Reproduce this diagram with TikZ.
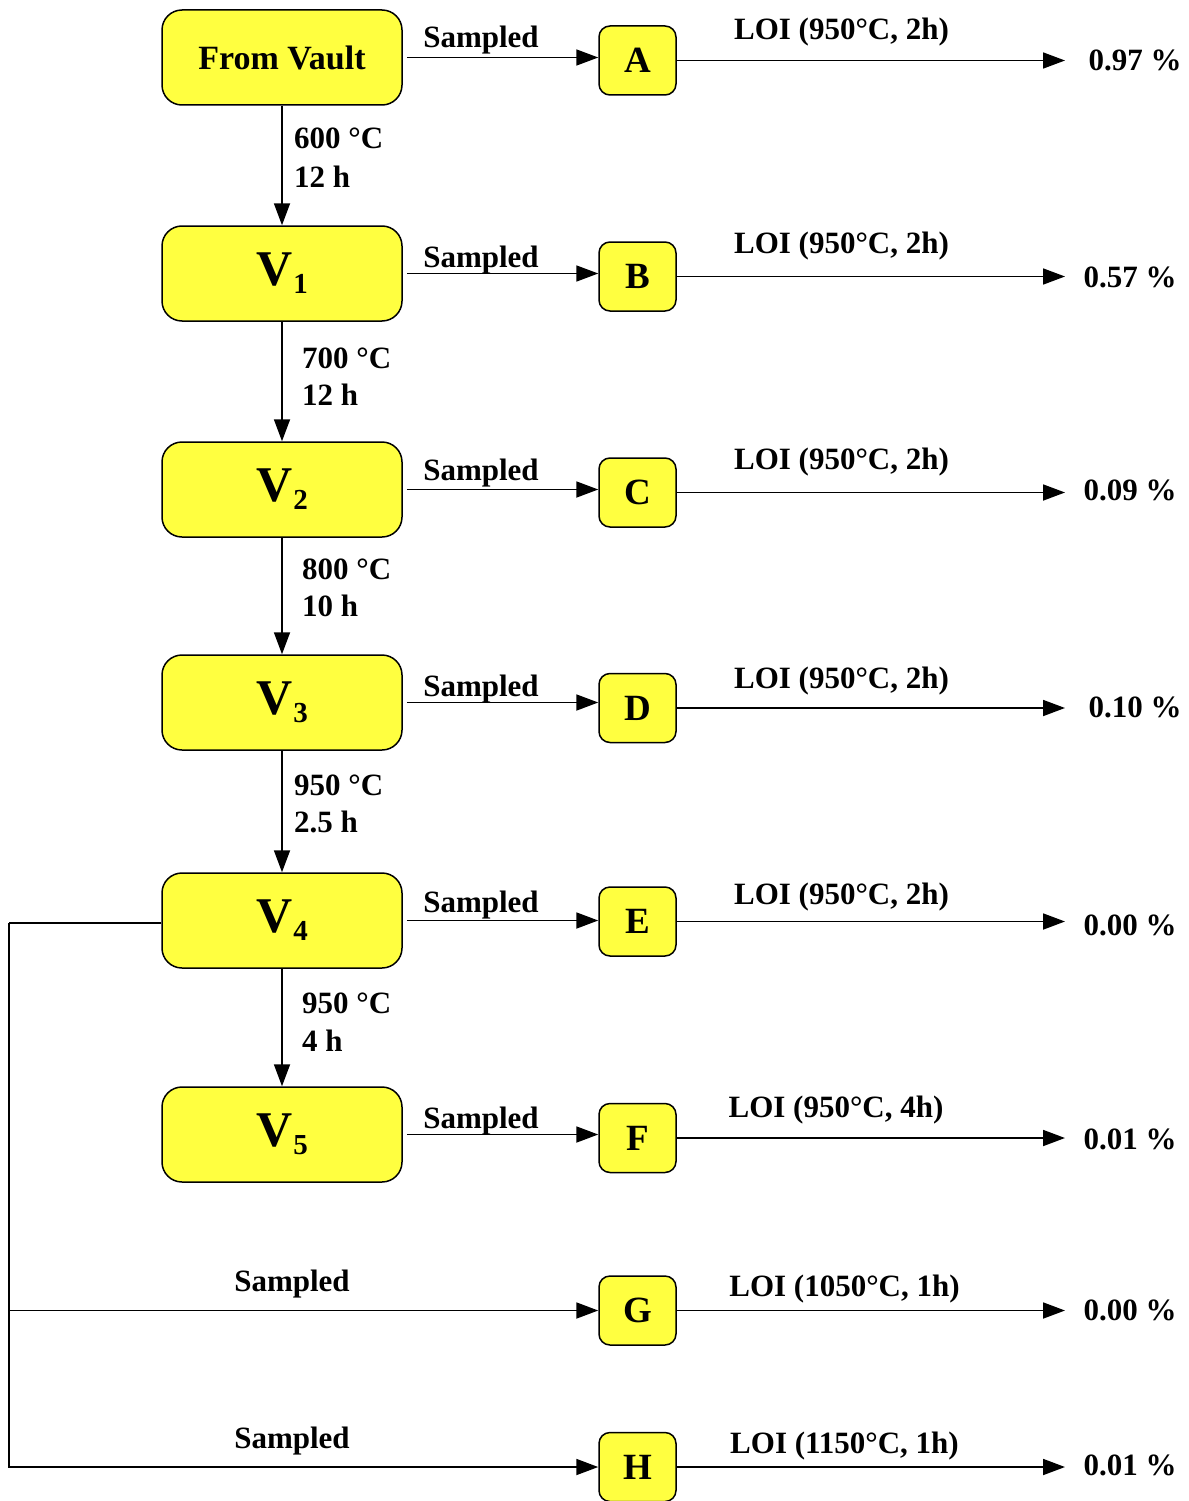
\documentclass[tikz,border=0pt]{standalone}
\usepackage{fontspec}
\setmainfont{Liberation Serif}
\usetikzlibrary{arrows.meta}
\definecolor{yel}{RGB}{255,255,64}
\newcommand{\Vsub}[1]{{\fontsize{50}{50}\selectfont V}\kern1pt\raisebox{-8pt}{\fontsize{29}{29}\selectfont #1}}
\begin{document}
\begin{tikzpicture}[x=1pt,y=-1pt,
 big/.style={draw,line width=1.5pt,fill=yel,rounded corners=20pt,minimum width=240pt,minimum height=95pt,inner sep=0pt,font=\bfseries\fontsize{34}{34}\selectfont},
 small/.style={draw,line width=1.5pt,fill=yel,rounded corners=11pt,minimum width=77pt,minimum height=69pt,inner sep=0pt,font=\bfseries\fontsize{37}{37}\selectfont},
 lbl/.style={inner sep=0pt,anchor=base,font=\bfseries\fontsize{31}{38}\selectfont},
 lblw/.style={lbl,anchor=base west},
 arr/.style={line width=1.8pt,-{Triangle[length=22pt,width=16pt]}},
 ln/.style={line width=1.8pt}]
\useasboundingbox (0,0) rectangle (1188,1501);
% big boxes
\node[big] (FV) at (282,57.5) {From Vault};
\node[big] (V1) at (282,273.5) {\Vsub{1}};
\node[big] (V2) at (282,489.5) {\Vsub{2}};
\node[big] (V3) at (282,702.5) {\Vsub{3}};
\node[big] (V4) at (282,920.5) {\Vsub{4}};
\node[big] (V5) at (282,1134.5) {\Vsub{5}};
% small boxes
\node[small] (A) at (637.5,60.5) {A};
\node[small] (B) at (637.5,276.5) {B};
\node[small] (C) at (637.5,492.5) {C};
\node[small] (D) at (637.5,708) {D};
\node[small] (E) at (637.5,921.5) {E};
\node[small] (F) at (637.5,1138) {F};
\node[small] (G) at (637.5,1310.5) {G};
\node[small] (H) at (637.5,1467) {H};
% vertical arrows
\draw[arr] (FV) -- (V1);
\draw[arr] (V1) -- (V2);
\draw[arr] (V2) -- (V3);
\draw[arr] (V3) -- (V4);
\draw[arr] (V4) -- (V5);
\node[lblw] (t1a) at (294,149) {600 °C};
\node[lblw] (t1b) at (294,187) {12 h};
\node[lblw] (t2a) at (302,368) {700 °C};
\node[lblw] (t2b) at (302,405) {12 h};
\node[lblw] (t3a) at (302,579) {800 °C};
\node[lblw] (t3b) at (302,616) {10 h};
\node[lblw] (t4a) at (294,795) {950 °C};
\node[lblw] (t4b) at (294,832) {2.5 h};
\node[lblw] (t5a) at (302,1013) {950 °C};
\node[lblw] (t5b) at (302,1051) {4 h};
% sampled arrows
\draw[arr] ([xshift=4pt]FV.east) -- (A.west |- FV.east);
\draw[arr] ([xshift=4pt]V1.east) -- (B.west |- V1.east);
\draw[arr] ([xshift=4pt]V2.east) -- (C.west |- V2.east);
\draw[arr] ([xshift=4pt]V3.east) -- (D.west |- V3.east);
\draw[arr] ([xshift=4pt]V4.east) -- (E.west |- V4.east);
\draw[arr] ([xshift=4pt]V5.east) -- (F.west |- V5.east);
\node[lbl] (sA) at (481,48) {Sampled};
\node[lbl] (sB) at (481,267) {Sampled};
\node[lbl] (sC) at (481,480) {Sampled};
\node[lbl] (sD) at (481,696) {Sampled};
\node[lbl] (sE) at (481,912) {Sampled};
\node[lbl] (sF) at (481,1128) {Sampled};
% left branch
\coordinate (L1) at (9,923);
\draw[ln] (V4.west |- L1) -- (L1);
\draw[arr] (L1) |- (H.west);
\draw[arr] (L1 |- G.west) -- (G.west);
\node[lbl] (sG) at (292,1291) {Sampled};
\node[lbl] (sH) at (292,1448) {Sampled};
% LOI arrows
\coordinate (rx) at (1065,0);
\draw[arr] (A.east) -- (A.east -| rx);
\draw[arr] (B.east) -- (B.east -| rx);
\draw[arr] (C.east) -- (C.east -| rx);
\draw[arr] (D.east) -- (D.east -| rx);
\draw[arr] (E.east) -- (E.east -| rx);
\draw[arr] (F.east) -- (F.east -| rx);
\draw[arr] (G.east) -- (G.east -| rx);
\draw[arr] (H.east) -- (H.east -| rx);
\node[lbl] (lA) at (841.5,40) {LOI (950°C, 2h)};
\node[lbl] (lB) at (841.5,253) {LOI (950°C, 2h)};
\node[lbl] (lC) at (841.5,469) {LOI (950°C, 2h)};
\node[lbl] (lD) at (841.5,688) {LOI (950°C, 2h)};
\node[lbl] (lE) at (841.5,904) {LOI (950°C, 2h)};
\node[lbl] (lF) at (836,1117) {LOI (950°C, 4h)};
\node[lbl] (lG) at (844.5,1296) {LOI (1050°C, 1h)};
\node[lbl] (lH) at (844.5,1453) {LOI (1150°C, 1h)};
% results
\node[lbl] (rA) at (1135,71) {0.97 \%};
\node[lbl] (rB) at (1130,287) {0.57 \%};
\node[lbl] (rC) at (1130,500) {0.09 \%};
\node[lbl] (rD) at (1135,717) {0.10 \%};
\node[lbl] (rE) at (1130,935) {0.00 \%};
\node[lbl] (rF) at (1130,1149) {0.01 \%};
\node[lbl] (rG) at (1130,1320) {0.00 \%};
\node[lbl] (rH) at (1130,1475) {0.01 \%};
\end{tikzpicture}
\end{document}
